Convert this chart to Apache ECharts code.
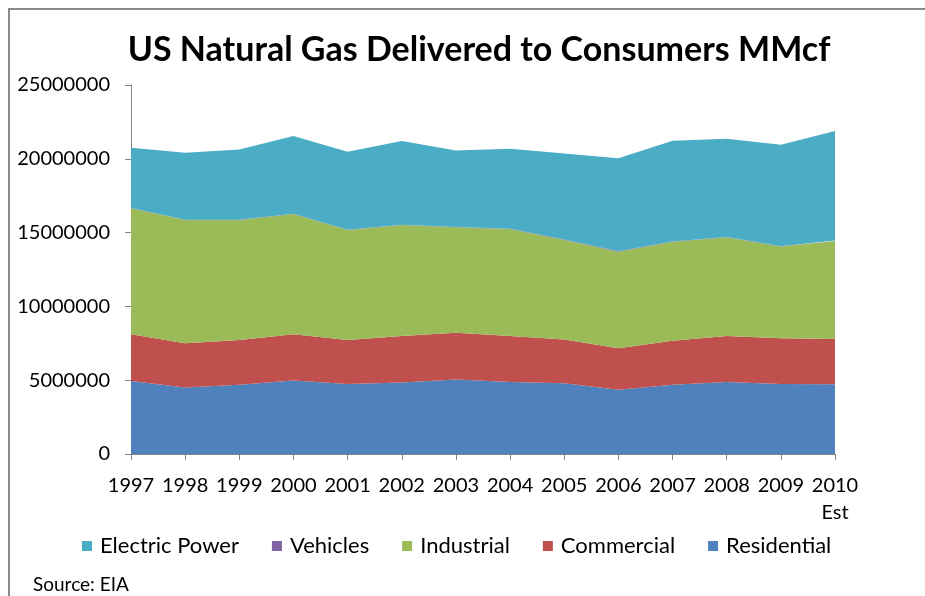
<!DOCTYPE html>
<html>
<head>
<meta charset="utf-8">
<script src="https://cdn.jsdelivr.net/npm/echarts@6/dist/echarts.min.js"></script>
<style>
html,body{margin:0;padding:0;background:#fff;}
#chart{width:925px;height:596px;}
</style>
</head>
<body>
<div id="chart"></div>
<script>
const years = ['1997','1998','1999','2000','2001','2002','2003','2004','2005','2006','2007','2008','2009','2010\nEst'];
const residential = [4950000,4500000,4700000,4980000,4750000,4850000,5050000,4880000,4800000,4350000,4700000,4880000,4750000,4720000];
const commercial  = [3160000,3000000,3020000,3130000,2970000,3140000,3170000,3110000,2950000,2810000,2980000,3110000,3090000,3070000];
const industrial  = [8540000,8350000,8130000,8150000,7460000,7520000,7140000,7250000,6750000,6550000,6700000,6690000,6210000,6640000];
const vehicles    = [11000,13000,15000,17000,19000,21000,24000,25000,25000,24000,25000,30000,30000,30000];
const electric    = [4090000,4550000,4770000,5260000,5280000,5670000,5170000,5420000,5830000,6300000,6820000,6650000,6880000,7420000];
const yTicks = [0,5000000,10000000,15000000,20000000,25000000];

const colors = {
  'Electric Power':'#4BACC6',
  'Vehicles':'#8064A2',
  'Industrial':'#9BBB59',
  'Commercial':'#C0504D',
  'Residential':'#4F81BD'
};
const FONT = 'Lato';

function areaSeries(name, data){
  return {
    name: name, type:'line', stack:'total', data:data,
    symbol:'none', smooth:false,
    lineStyle:{width:0, color:colors[name]},
    itemStyle:{color:colors[name]},
    areaStyle:{color:colors[name], opacity:1},
    emphasis:{disabled:true}
  };
}

const chart = echarts.init(document.getElementById('chart'), null, {renderer:'canvas'});
chart.setOption({
  animation:false,
  backgroundColor:'#fff',
  title:{
    text:'US Natural Gas Delivered to Consumers MMcf',
    left:474, top:28, textAlign:'center',
    textStyle:{fontFamily:FONT, fontWeight:'bold', fontSize:34, color:'#000'}
  },
  graphic:[
    {type:'polyline', shape:{points:[[9,596],[9,9],[925,9]]}, style:{stroke:'#8a8a8a', lineWidth:2, fill:null}, silent:true},
    {type:'text', left:33, top:575, style:{text:'Source: EIA', fontFamily:FONT, fontSize:19, fill:'#000'}}
  ],
  legend:{
    left:77, top:530,
    itemWidth:10, itemHeight:10, itemGap:33,
    icon:'rect',
    data:['Electric Power','Vehicles','Industrial','Commercial','Residential'],
    textStyle:{fontFamily:FONT, fontSize:22, color:'#000', padding:[0,0,0,3]}
  },
  grid:{left:131, right:90, top:85, bottom:142, containLabel:false},
  xAxis:{
    type:'category', data:years, boundaryGap:false,
    axisLine:{lineStyle:{color:'#868686', width:1}},
    axisTick:{show:true, length:6, lineStyle:{color:'#868686'}},
    axisLabel:{fontFamily:FONT, fontSize:20, color:'#000', margin:18, lineHeight:27, interval:0},
    splitLine:{show:false}
  },
  yAxis:{
    type:'value', min:0, max:25000000, interval:5000000,
    axisLine:{show:true, lineStyle:{color:'#868686', width:1}},
    axisTick:{show:true, length:6, lineStyle:{color:'#868686'}},
    axisLabel:{fontFamily:FONT, fontSize:20, color:'#000', margin:21,
      formatter:function(v){ return yTicks.indexOf(v) >= 0 ? String(v) : ''; }},
    splitLine:{show:false}
  },
  series:[
    areaSeries('Residential', residential),
    areaSeries('Commercial', commercial),
    areaSeries('Industrial', industrial),
    areaSeries('Vehicles', vehicles),
    areaSeries('Electric Power', electric)
  ]
});
</script>
</body>
</html>
